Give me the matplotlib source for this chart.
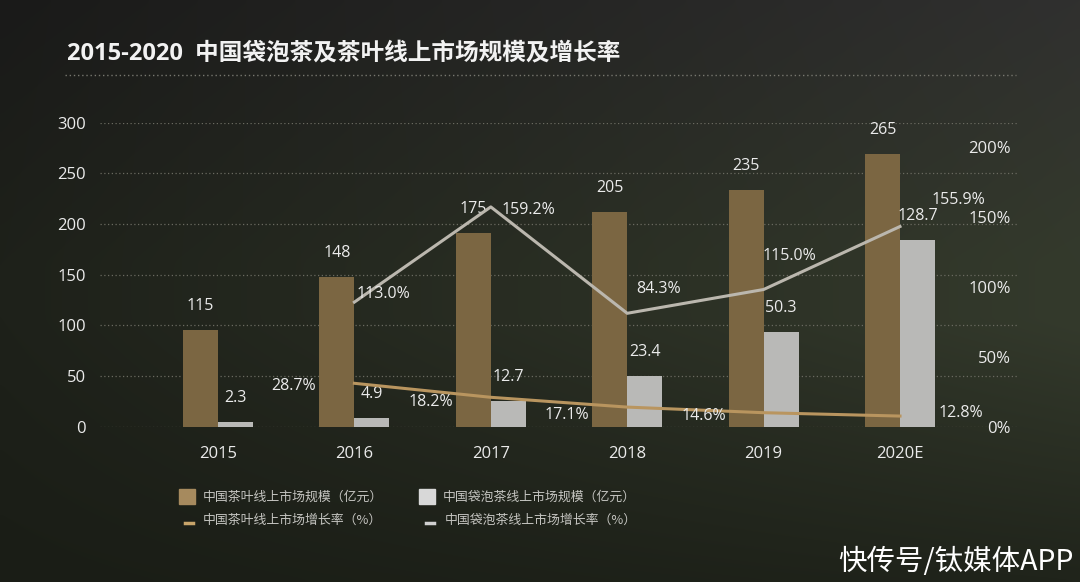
import numpy as np
import matplotlib
matplotlib.use("Agg")
from matplotlib import pyplot as plt
from matplotlib.patches import Rectangle
from matplotlib.lines import Line2D

plt.rcParams['font.family'] = ['Open Sans', 'Noto Sans CJK SC', 'DejaVu Sans']

# categories and values (bar heights as drawn in the picture, labels as printed)
years = ['2015', '2016', '2017', '2018', '2019', '2020E']
tea_height = [95, 148, 191, 212, 234, 269]
tea_label = ['115', '148', '175', '205', '235', '265']
bag_height = [5, 9, 25, 50, 93, 184]
bag_label = ['2.3', '4.9', '12.7', '23.4', '50.3', '128.7']
# growth rates (2016-2020), line position as drawn and printed label
bag_growth = [89, 157, 81, 98, 143]
bag_growth_label = ['113.0%', '159.2%', '84.3%', '115.0%', '155.9%']
tea_growth = [31, 21, 14, 10, 7.6]
tea_growth_label = ['28.7%', '18.2%', '17.1%', '14.6%', '12.8%']

TAN = '#7b6642'
TAN_LINE = '#b9955f'
GRAY = '#b9b9b7'
GRAY_LINE = '#bbb7ae'
TXT = '#ebebeb'

fig = plt.figure(figsize=(10.8, 5.82), dpi=100)

# dark photo-like background (gray haze on top, greenish hills below)
bg = fig.add_axes([0, 0, 1, 1], zorder=-10)
h, w = 120, 220
yy, xx = np.mgrid[0:1:h * 1j, 0:1:w * 1j]
top = np.array([26, 26, 25]) + np.array([22, 22, 22]) * xx[..., None]
mid = np.array([30, 33, 26]) + np.array([22, 25, 18]) * xx[..., None]
bot = np.array([26, 29, 22]) + np.array([6, 7, 5]) * xx[..., None]
t1 = np.clip(yy / 0.45, 0, 1)[..., None]
t2 = np.clip((yy - 0.55) / 0.45, 0, 1)[..., None]
img = top * (1 - t1) + mid * t1
img = img * (1 - t2) + bot * t2
bg.imshow(img / 255.0, aspect='auto', extent=[0, 1, 0, 1], interpolation='bicubic')
bg.set_axis_off()

# title + dotted rule
fig.text(67 / 1080, 1 - 53 / 582, '2015-2020  中国袋泡茶及茶叶线上市场规模及增长率',
         color='#f2f2f2', fontsize=17, fontweight='bold', va='center', ha='left')
fig.add_artist(Line2D([65 / 1080, 1016 / 1080], [1 - 75 / 582, 1 - 75 / 582],
                      color='#77776f', lw=1.0, ls=(0, (1, 2))))

ax = fig.add_axes([100 / 1080, 1 - 426.7 / 582, 918 / 1080, 304 / 582])
ax.patch.set_alpha(0)
x = np.arange(len(years))
bw = 0.257
ax.bar(x - bw / 2, tea_height, bw, color=TAN, zorder=3)
ax.bar(x + bw / 2, bag_height, bw, color=GRAY, zorder=3)
ax.set_xlim(-0.865, 5.865)
ax.set_ylim(0, 300)
ax.set_yticks(range(0, 301, 50))
ax.yaxis.grid(True, color='#6a6a60', lw=0.9, ls=(0, (1, 2)))
ax.set_axisbelow(True)
for s in ax.spines.values():
    s.set_visible(False)
ax.tick_params(axis='y', length=0, pad=10, labelsize=12, labelcolor=TXT)
ax.set_xticks(x, years)
ax.tick_params(axis='x', length=0, pad=14, labelsize=12, labelcolor=TXT)

for i in range(len(years)):
    ax.annotate(tea_label[i], (x[i] - bw / 2, tea_height[i]), xytext=(0, 24),
                textcoords='offset pixels', ha='center', va='center',
                color=TXT, fontsize=11.5)
    ax.annotate(bag_label[i], (x[i] + bw / 2, bag_height[i]), xytext=(0, 24),
                textcoords='offset pixels', ha='center', va='center',
                color=TXT, fontsize=11.5)

ax2 = ax.twinx()
ax2.set_ylim(0, 304 / 1.4)
ax2.set_yticks([0, 50, 100, 150, 200], ['0%', '50%', '100%', '150%', '200%'])
for s in ax2.spines.values():
    s.set_visible(False)
ax2.tick_params(axis='y', length=0, pad=-5, labelsize=12, labelcolor=TXT)
for t in ax2.get_yticklabels():
    t.set_ha('right')

xg = x[1:]
ax2.plot(xg, bag_growth, color=GRAY_LINE, lw=2.2, zorder=4)
ax2.plot(xg, tea_growth, color=TAN_LINE, lw=2.2, zorder=4)

bag_off = [(29, 8), (38, -3), (31, 24), (26, 34), (58, 26)]
tea_off = [(-61, -3), (-60, -5), (-60, -8), (-60, -3), (61, 3)]
for i in range(len(xg)):
    ax2.annotate(bag_growth_label[i], (xg[i], bag_growth[i]), xytext=bag_off[i],
                 textcoords='offset pixels', ha='center', va='center',
                 color=TXT, fontsize=11.5, zorder=5)
    ax2.annotate(tea_growth_label[i], (xg[i], tea_growth[i]), xytext=tea_off[i],
                 textcoords='offset pixels', ha='center', va='center',
                 color=TXT, fontsize=11.5, zorder=5)

# legend drawn by hand
LEG = '#c4c4c0'
def fx(px):
    return px / 1080
def fy(py):
    return 1 - py / 582
fig.add_artist(Rectangle((fx(179), fy(504)), 16 / 1080, 15 / 582, color='#a68a5e'))
fig.add_artist(Rectangle((fx(419), fy(504)), 16 / 1080, 15 / 582, color='#d8d8d8'))
fig.add_artist(Line2D([fx(185), fx(193)], [fy(523), fy(523)], color='#c8a46a', lw=2.5))
fig.add_artist(Line2D([fx(426), fx(434)], [fy(523), fy(523)], color='#d0d0d0', lw=2.5))
legend_font = dict(color=LEG, fontsize=9.3, va='center', family=['Noto Sans CJK SC'])
fig.text(fx(203), fy(497), '中国茶叶线上市场规模（亿元）', **legend_font)
fig.text(fx(443), fy(497), '中国袋泡茶线上市场规模（亿元）', **legend_font)
fig.text(fx(203), fy(520), '中国茶叶线上市场增长率（%）', **legend_font)
fig.text(fx(445), fy(520), '中国袋泡茶线上市场增长率（%）', **legend_font)

# watermark
fig.text(fx(1074), fy(562), '快传号/钛媒体APP', color='white', fontsize=20.5, ha='right',
         va='center', family=['Noto Sans CJK SC'])

fig.savefig('out.png', dpi=100)
